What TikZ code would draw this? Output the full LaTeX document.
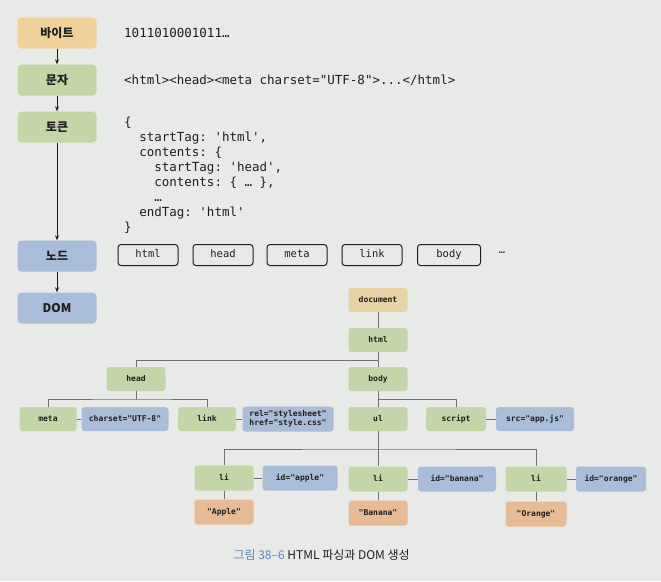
\documentclass[tikz,border=0pt]{standalone}
\usepackage{fontspec}
\setmainfont{Noto Sans CJK KR}
\setmonofont{DejaVu Sans Mono}
\usetikzlibrary{arrows.meta,positioning}
\definecolor{bgGray}{HTML}{E8EAE8}
\definecolor{byteTan}{HTML}{EFD29A}
\definecolor{docTan}{HTML}{E6D4A6}
\definecolor{elemGreen}{HTML}{C4D5A8}
\definecolor{attrBlue}{HTML}{A9BDD8}
\definecolor{textPeach}{HTML}{E6BB96}
\definecolor{lineGray}{HTML}{707070}
\definecolor{capBlue}{HTML}{5E86B8}
\definecolor{inkDark}{HTML}{1E1E1E}
\newcommand\ind{\hphantom{xx}}

\begin{document}
\begin{tikzpicture}[x=1pt, y=-1pt, inkDark,
      stage/.style={rounded corners=4pt, minimum width=79pt, minimum height=31pt, inner sep=0pt,
        font=\bfseries\fontsize{12}{14}\selectfont},
      flow/.style={line width=0.7pt, -{Stealth[length=5pt,width=4pt]}},
      code/.style={anchor=west, inner sep=0pt, align=left, font=\ttfamily\fontsize{12.5}{15}\selectfont},
      tok/.style={draw, line width=1pt, rounded corners=3pt, minimum width=60pt, minimum height=21pt,
        inner sep=0pt, text height=8pt, text depth=2.5pt, font=\ttfamily\fontsize{10.5}{12}\selectfont},
      dom/.style={rounded corners=3pt, minimum width=59pt, minimum height=24pt, inner sep=2pt, align=center,
        font=\ttfamily\bfseries\fontsize{8}{9.5}\selectfont},
      oneline/.style={text height=6pt, text depth=2pt},
      elem/.style={dom, oneline, fill=elemGreen},
      attr/.style={dom, oneline, fill=attrBlue},
      txt/.style={dom, oneline, fill=textPeach},
      tree/.style={lineGray, line width=0.9pt}]
    \fill[bgGray] (0,0) rectangle (661,581);
    \useasboundingbox (0,0) rectangle (661,581);
    % parsing stages
    \node[stage, fill=byteTan] (byte) at (57,33) {바이트};
    \node[stage, fill=elemGreen] (char) at (57,80) {문자};
    \node[stage, fill=elemGreen] (token) at (57,127) {토큰};
    \node[stage, fill=attrBlue] (nodes) at (57,256) {노드};
    \node[stage, fill=attrBlue] (dom) at (57,308) {DOM};
    \draw[flow] (byte) -- (char);
    \draw[flow] (char) -- (token);
    \draw[flow] (token) -- (nodes);
    \draw[flow] (nodes) -- (dom);
    \node[code] (bits) at (124,33) {1011010001011…};
    \node[code] (chars) at (124,80) {<html><head><meta charset="UTF-8">...</html>};
    \node[code, anchor=north west] (tokens) at (124,117)
      {\{\\
       \ind startTag: 'html',\\
       \ind contents: \{\\
       \ind\ind startTag: 'head',\\
       \ind\ind contents: \{ … \},\\
       \ind\ind …\\
       \ind endTag: 'html'\\
       \}};
    % nodes
    \node[tok] (thtml) at (148,255) {html};
    \node[tok] (thead) at (223,255) {head};
    \node[tok] (tmeta) at (297,255) {meta};
    \node[tok] (tlink) at (372,255) {link};
    \node[tok, minimum width=63pt] (tbody) at (449,255) {body};
    \node[font=\ttfamily\fontsize{10.5}{12}\selectfont] (tmore) at (502,253) {…};
    % DOM tree
    \node[dom, oneline, fill=docTan] (doc) at (378,300) {document};
    \node[elem] (html) at (378,340) {html};
    \node[elem] (body) at (378,379) {body};
    \node[elem] (head) at (136,379) {head};
    \node[elem, minimum width=57pt] (meta) at (48,419) {meta};
    \node[attr, minimum width=87pt] (charset) at (125,419) {charset="UTF-8"};
    \node[elem, minimum width=58pt] (link) at (207,419) {link};
    \node[dom, fill=attrBlue, minimum width=91pt, minimum height=25pt, inner sep=1pt] (rel) at (288,419)
      {rel="stylesheet"\\href="style.css"};
    \node[elem] (ul) at (378,419) {ul};
    \node[elem, minimum width=60pt] (script) at (456,419) {script};
    \node[attr, minimum width=78pt] (src) at (535,419) {src="app.js"};
    \node[elem, minimum height=25pt] (li1) at (224,478) {li};
    \node[attr, minimum width=75pt, minimum height=25pt] (apple) at (300,478) {id="apple"};
    \node[elem, minimum height=25pt] (li2) at (378,479) {li};
    \node[attr, minimum width=78pt, minimum height=25pt] (banana) at (457,479) {id="banana"};
    \node[elem, minimum width=61pt, minimum height=25pt] (li3) at (536,479) {li};
    \node[attr, minimum width=70pt, minimum height=25pt] (orange) at (611,479) {id="orange"};
    \node[txt, minimum height=25pt] (tapple) at (224,512) {"Apple"};
    \node[txt, minimum height=25pt] (tbanana) at (378,513) {"Banana"};
    \node[txt, minimum width=61pt, minimum height=25pt] (torange) at (536,514) {"Orange"};
    \coordinate (htmlbus) at (378,360);
    \coordinate (headbus) at (136,399);
    \coordinate (bodybus) at (378,399);
    \coordinate (ulbus) at (378,449);
    \draw[tree] (doc) -- (html);
    \draw[tree] (html) -- (body);
    \draw[tree] (htmlbus) -| (head);
    \draw[tree] (head) -- (headbus);
    \draw[tree] (meta) |- (headbus) -| (link);
    \draw[tree] (body) -- (ul);
    \draw[tree] (bodybus) -| (script);
    \draw[tree] (ul) -- (li2);
    \draw[tree] (li1) |- (ulbus) -| (li3);
    \draw[tree] (meta) -- (charset);
    \draw[tree] (link) -- (rel);
    \draw[tree] (script) -- (src);
    \draw[tree] (li1) -- (apple);
    \draw[tree] (li2) -- (banana);
    \draw[tree] (li3) -- (orange);
    \draw[tree] (li1) -- (tapple);
    \draw[tree] (li2) -- (tbanana);
    \draw[tree] (li3) -- (torange);
    \node[anchor=west, font=\fontsize{12}{14}\selectfont] (caption) at (230,555)
      {\textcolor{capBlue}{그림 38–6} HTML 파싱과 DOM 생성};
  \end{tikzpicture}
\end{document}
